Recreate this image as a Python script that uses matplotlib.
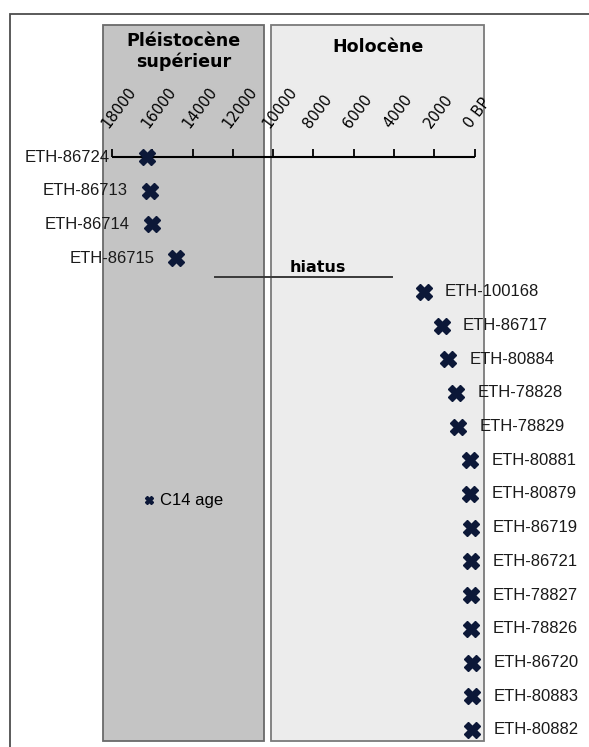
import matplotlib
matplotlib.use("Agg")
import matplotlib.pyplot as plt
from matplotlib.patches import Rectangle
from matplotlib.lines import Line2D

# Radiocarbon samples (top to bottom) and their C14 ages in years BP
samples = ["ETH-86724", "ETH-86713", "ETH-86714", "ETH-86715", "ETH-100168",
           "ETH-86717", "ETH-80884", "ETH-78828", "ETH-78829", "ETH-80881",
           "ETH-80879", "ETH-86719", "ETH-86721", "ETH-78827", "ETH-78826",
           "ETH-86720", "ETH-80883", "ETH-80882"]
ages = [16250, 16100, 16000, 14800, 2500,
        1600, 1300, 900, 800, 200,
        200, 150, 150, 150, 150,
        100, 100, 100]

# Time axis
tick_values = [18000, 16000, 14000, 12000, 10000, 8000, 6000, 4000, 2000, 0]
tick_labels = ["18000", "16000", "14000", "12000", "10000", "8000", "6000",
               "4000", "2000", "0 BP"]

# Sedimentary gap between the Pleistocene and Holocene samples
hiatus_span = (12900, 4100)
hiatus_row = 3.56

W, H = 589, 747
NAVY = "#0c1838"
LABEL_FONT = ["Liberation Sans", "DejaVu Sans"]
TITLE_FONT = ["DejaVu Sans"]

fig = plt.figure(figsize=(W / 100, H / 100), dpi=100)
ax = fig.add_axes([0, 0, 1, 1])
ax.axis("off")

# scale: 0 BP at x=474.5 px, 18000 BP at x=112 px; rows 33.7 px apart from y=157
px_per_year = (474.5 - 112) / 18000
row_px = 33.7
ax.set_xlim(474.5 / px_per_year, (474.5 - W) / px_per_year)
ax.set_ylim((H - 157) / row_px, -157 / row_px)


def fig_rect(x0, y0, x1, y1, **kw):
    """Rectangle given in figure pixels (origin top-left)."""
    return Rectangle((x0 / W, 1 - y1 / H), (x1 - x0) / W, (y1 - y0) / H,
                     transform=fig.transFigure, clip_on=False, **kw)


# outer frame
ax.add_patch(fig_rect(10, 14, 640, 800, facecolor="white",
                      edgecolor="#4d4d4d", lw=1.3, zorder=0))
# period panels
ax.add_patch(fig_rect(103, 25, 264, 741, facecolor="#c4c4c4",
                      edgecolor="#6a6a6a", lw=1.3, zorder=1))
ax.add_patch(fig_rect(271, 25, 484, 741, facecolor="#ececec",
                      edgecolor="#7a7a7a", lw=1.3, zorder=1))

fig.text(183.5 / W, 1 - 51.5 / H, "Pléistocène\nsupérieur", ha="center",
         va="center", fontsize=12.6, fontweight="bold", family=TITLE_FONT,
         linespacing=1.12)
fig.text(378 / W, 1 - 47 / H, "Holocène", ha="center", va="center",
         fontsize=12.6, fontweight="bold", family=TITLE_FONT)

# time axis with upward ticks
ax.plot([tick_values[0], tick_values[-1]], [0, 0], color="black", lw=1.5,
        zorder=3, solid_capstyle="butt")
ax.vlines(tick_values, -8 / row_px, 0, color="black", lw=1.3, zorder=3)
for t, lab in zip(tick_values, tick_labels):
    ax.annotate(lab, xy=(t, 0), xytext=(-2.5, 20.5), textcoords="offset points",
                rotation=53, rotation_mode="anchor", ha="left", va="baseline",
                fontsize=10.6, family=TITLE_FONT, zorder=4)

# samples
rows = list(range(len(samples)))
ax.plot(ages, rows, ls="", marker="X", ms=11.5, color=NAVY,
        markeredgecolor=NAVY, zorder=5)
for r, (name, age) in enumerate(zip(samples, ages)):
    if age > 11700:
        if r == 0:
            xy, dx = (tick_values[0], r), -1.5
        else:
            xy, dx = (age, r), -16
        ax.annotate(name, xy=xy, xytext=(dx, 0), textcoords="offset points",
                    ha="right", va="center", fontsize=12, family=LABEL_FONT,
                    color="#1a1a1a", zorder=6)
    else:
        ax.annotate(name, xy=(age, r), xytext=(15, 0),
                    textcoords="offset points", ha="left", va="center",
                    fontsize=12, family=LABEL_FONT, color="#1a1a1a", zorder=6)

# hiatus
ax.plot(hiatus_span, [hiatus_row, hiatus_row], color="#3a3a3a", lw=1.4, zorder=3)
ax.annotate("hiatus", xy=(hiatus_span[0], hiatus_row), xytext=(54, 6.5),
            textcoords="offset points", ha="left", va="center",
            fontsize=11.5, fontweight="bold", family=TITLE_FONT, zorder=4)

# legend
handle = Line2D([], [], ls="", marker="X", ms=6, color=NAVY)
ax.legend([handle], ["C14 age"], frameon=False, loc="center left",
          bbox_to_anchor=(143 / W, 1 - 501 / H), bbox_transform=fig.transFigure,
          handlelength=0.7, handletextpad=0.35, borderpad=0, borderaxespad=0,
          prop={"family": LABEL_FONT, "size": 12})

fig.savefig("out.png", dpi=100)
